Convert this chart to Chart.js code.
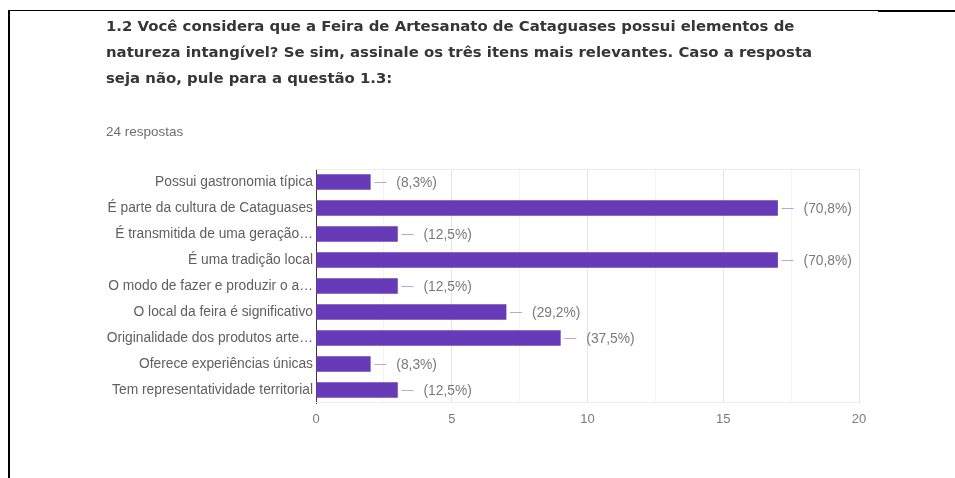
<!DOCTYPE html>
<html lang="pt-BR">
<head>
<meta charset="utf-8">
<title>Feira de Artesanato de Cataguases – 1.2</title>
<script src="https://cdn.jsdelivr.net/npm/chart.js@4/dist/chart.umd.min.js"></script>
<style>
  html, body { margin: 0; padding: 0; background: #ffffff; }
  body { width: 955px; height: 478px; position: relative; overflow: hidden; }
  .frame-left { position: absolute; left: 8px; top: 10px; width: 2px; height: 468px; background: #000; }
  .frame-top { position: absolute; left: 8px; top: 10px; width: 870px; height: 1px; background: #000; }
  .frame-top-r { position: absolute; left: 878px; top: 10px; width: 77px; height: 2px; background: #000; }
  #question {
    position: absolute; left: 106px; top: 13px; margin: 0;
    font-family: "DejaVu Sans", "Open Sans", sans-serif; font-weight: 700;
    font-size: 14.9px; line-height: 26px; color: #363636;
    white-space: nowrap; z-index: 2;
  }
  #count {
    position: absolute; left: 106px; top: 124px;
    font-family: "Liberation Sans", Arial, sans-serif; font-size: 13.5px;
    color: #6f6f6f; z-index: 2;
  }
  #wrap { position: absolute; left: 0; top: 0; width: 955px; height: 478px; }
</style>
</head>
<body>
<div class="frame-left"></div>
<div class="frame-top"></div>
<div class="frame-top-r"></div>
<h2 id="question">1.2 Você considera que a Feira de Artesanato de Cataguases possui elementos de<br>natureza intangível? Se sim, assinale os três itens mais relevantes. Caso a resposta<br>seja não, pule para a questão 1.3:</h2>
<div id="count">24 respostas</div>
<div id="wrap"><canvas id="chart"></canvas></div>

<script>
// Options offered in question 1.2 (labels truncated as shown in the form summary)
const categories = [
  'Possui gastronomia típica',
  'É parte da cultura de Cataguases',
  'É transmitida de uma geração…',
  'É uma tradição local',
  'O modo de fazer e produzir o a…',
  'O local da feira é significativo',
  'Originalidade dos produtos arte…',
  'Oferece experiências únicas',
  'Tem representatividade territorial'
];

// Number of respondents who picked each option
const votes = [2, 17, 3, 17, 3, 7, 9, 2, 3];

// Total answers to the question
const respondents = 24;

// Value axis
const axisMin = 0;
const axisMax = 20;
const axisStep = 2.5;
const labelledEvery = 5;

const BAR = '#673ab7';
const LABEL_FONT = '"Liberation Sans", Arial, sans-serif';

function pctText(v) {
  return '(' + (v / respondents * 100).toFixed(1).replace('.', ',') + '%)';
}

// Leader line + percentage annotation to the right of each bar
const annotations = {
  id: 'annotations',
  afterDatasetsDraw(chart) {
    const ctx = chart.ctx;
    const meta = chart.getDatasetMeta(0);
    ctx.save();
    ctx.font = '13.8px ' + LABEL_FONT;
    ctx.textBaseline = 'middle';
    ctx.textAlign = 'left';
    meta.data.forEach((bar, i) => {
      const x = bar.x, y = Math.round(bar.y) + 0.5;
      ctx.strokeStyle = '#b8a8da';
      ctx.lineWidth = 1;
      ctx.beginPath();
      ctx.moveTo(x + 4, y);
      ctx.lineTo(x + 16, y);
      ctx.stroke();
      ctx.fillStyle = '#7a7a7a';
      ctx.fillText(pctText(chart.data.datasets[0].data[i]), x + 26, y + 1);
    });
    ctx.restore();
  }
};

// Faint outline around the plotting area
const plotFrame = {
  id: 'plotFrame',
  beforeDatasetsDraw(chart) {
    const { ctx, chartArea: a } = chart;
    ctx.save();
    ctx.strokeStyle = '#ececec';
    ctx.lineWidth = 1;
    ctx.beginPath();
    ctx.moveTo(a.left, Math.round(a.top) + 0.5);
    ctx.lineTo(a.right, Math.round(a.top) + 0.5);
    ctx.moveTo(a.left, Math.round(a.bottom) - 0.5);
    ctx.lineTo(a.right, Math.round(a.bottom) - 0.5);
    ctx.stroke();
    ctx.restore();
  }
};

new Chart(document.getElementById('chart'), {
  type: 'bar',
  data: {
    labels: categories,
    datasets: [{
      data: votes,
      backgroundColor: BAR,
      borderWidth: 0,
      barThickness: 15
    }]
  },
  options: {
    indexAxis: 'y',
    responsive: true,
    maintainAspectRatio: false,
    animation: false,
    layout: { padding: { left: 0, right: 96, top: 169, bottom: 0 } },
    plugins: { legend: { display: false }, tooltip: { enabled: false } },
    scales: {
      x: {
        min: axisMin,
        max: axisMax,
        afterFit(scale) { scale.height = 75; },
        border: { display: false },
        grid: {
          drawTicks: false,
          color: (c) => (c.tick && c.tick.value % labelledEvery === 0) ? '#e4e4e4' : '#f3f3f3'
        },
        ticks: {
          stepSize: axisStep,
          padding: 9,
          color: '#7a7a7a',
          font: { family: LABEL_FONT, size: 13 },
          callback: (v) => (v % labelledEvery === 0 ? String(v) : '')
        }
      },
      y: {
        afterFit(scale) { scale.width = 316; },
        border: { display: true, color: '#3a3a3a', width: 1 },
        grid: { display: false, drawTicks: false },
        ticks: {
          padding: 3,
          color: '#5f5f5f',
          font: { family: LABEL_FONT, size: 13.8 },
          autoSkip: false
        }
      }
    }
  },
  plugins: [plotFrame, annotations]
});
</script>
</body>
</html>
